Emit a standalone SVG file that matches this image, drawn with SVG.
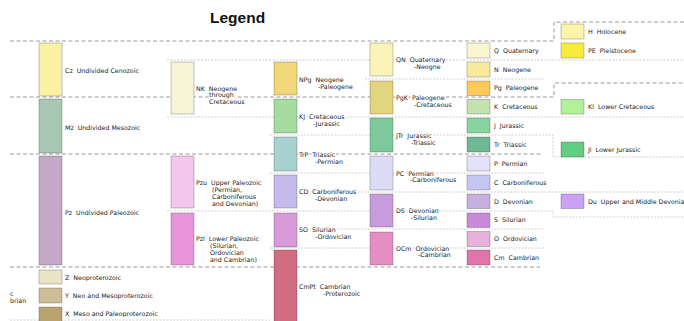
<svg xmlns="http://www.w3.org/2000/svg" width="684" height="321" viewBox="0 0 684 321">
<style>
.t{font-family:"DejaVu Sans","Verdana",sans-serif;font-size:6.3px;fill:#222;white-space:pre;stroke:#fff;stroke-width:2.4px;stroke-linejoin:round;paint-order:stroke}
.b{stroke:#000;stroke-opacity:.28;stroke-width:.8}
.hv{fill:none;stroke:#9a9a9a;stroke-width:1;stroke-dasharray:4 2.5}
.lt{fill:none;stroke:#c4c4c4;stroke-width:.8;stroke-dasharray:2 1.4}
.title{font-family:"Liberation Sans",Arial,sans-serif;font-weight:bold;font-size:15.5px;fill:#111}
</style>
<rect width="684" height="321" fill="#fff"/>
<text class="title" x="210" y="23">Legend</text>
<g id="connectors">
<path class="hv" d="M10,41H554V22H684"/>
<path class="hv" d="M10,97H554V83H684"/>
<path class="hv" d="M10,154H543"/>
<path class="hv" d="M10,267H540"/>
<path class="lt" d="M167,60H684"/>
<path class="lt" d="M365,79H545"/>
<path class="lt" d="M167,117H684"/>
<path class="lt" d="M270,135H553V157H684"/>
<path class="lt" d="M270,173H545"/>
<path class="lt" d="M300,192H684"/>
<path class="lt" d="M167,211H553V217H684"/>
<path class="lt" d="M300,229H545"/>
<path class="lt" d="M270,248H545"/>
<path class="lt" d="M10,320H270"/>
</g>
<g id="Cz"><rect class="b" x="39" y="43" width="23" height="53" fill="#f9f1a4"/><text class="t" x="65" y="72.5">Cz  Undivided Cenozoic</text></g>
<g id="Mz"><rect class="b" x="39" y="99" width="23" height="54" fill="#a9c7b3"/><text class="t" x="65" y="129.5">Mz  Undivided Mesozoic</text></g>
<g id="Pz"><rect class="b" x="39" y="156" width="23" height="109" fill="#c3a9c6"/><text class="t" x="65" y="214.5">Pz  Undivided Paleozoic</text></g>
<g id="Z"><rect class="b" x="39" y="270" width="23" height="14" fill="#e8e4c4"/><text class="t" x="65" y="279.5">Z  Neoproterozoic</text></g>
<g id="Y"><rect class="b" x="39" y="288" width="23" height="15" fill="#cfbd96"/><text class="t" x="65" y="297.8">Y  Neo and Mesoproterozoic</text></g>
<g id="X"><rect class="b" x="39" y="307" width="23" height="18" fill="#b9a470"/><text class="t" x="65" y="316.3">X  Meso and Paleoproterozoic</text></g>
<g id="precambrian"><text class="t" x="10" y="296">c</text><text class="t" x="10" y="303">brian</text></g>

<g id="NK"><rect class="b" x="171" y="62" width="23" height="52" fill="#f6f4d6"/><text class="t" x="196" y="90.5">NK  Neogene</text><text class="t" x="209" y="97.3">through</text><text class="t" x="209" y="104.1">Cretaceous</text></g>
<g id="Pzu"><rect class="b" x="171" y="156" width="23" height="52" fill="#f4c6ee"/><text class="t" x="196" y="185.3">Pzu  Upper Paleozoic</text><text class="t" x="212" y="192.1">(Permian,</text><text class="t" x="212" y="198.9">Carboniferous</text><text class="t" x="212" y="205.7">and Devonian)</text></g>
<g id="Pzl"><rect class="b" x="171" y="213" width="23" height="52" fill="#e995dc"/><text class="t" x="196" y="241.3">Pzl  Lower Paleozoic</text><text class="t" x="210" y="248.1">(Silurian,</text><text class="t" x="210" y="254.9">Ordovician</text><text class="t" x="210" y="261.7">and Cambrian)</text></g>

<g id="NPg"><rect class="b" x="274" y="62" width="23" height="33" fill="#f0d77a"/><text class="t" x="299" y="82.3">NPg  Neogene</text><text class="t" x="318" y="88.9">-Paleogene</text></g>
<g id="KJ"><rect class="b" x="274" y="99" width="23" height="34" fill="#a5dca0"/><text class="t" x="299" y="119">KJ  Cretaceous</text><text class="t" x="313" y="125.6">-Jurassic</text></g>
<g id="TrP"><rect class="b" x="274" y="137" width="23" height="34" fill="#a9d1cf"/><text class="t" x="299" y="157.3">TrP  Triassic</text><text class="t" x="315" y="163.9">-Permian</text></g>
<g id="CD"><rect class="b" x="274" y="175" width="23" height="33" fill="#c5baec"/><text class="t" x="299" y="194">CD  Carboniferous</text><text class="t" x="315" y="200.6">-Devonian</text></g>
<g id="SO"><rect class="b" x="274" y="213" width="23" height="34" fill="#d99ad9"/><text class="t" x="299" y="232.3">SO  Silurian</text><text class="t" x="315" y="238.9">-Ordovician</text></g>
<g id="CmPt"><rect class="b" x="274" y="250" width="23" height="75" fill="#d06d80"/><text class="t" x="299" y="289">CmPt  Cambrian</text><text class="t" x="323" y="295.6">-Proterozoic</text></g>

<g id="QN"><rect class="b" x="370" y="43" width="23" height="33" fill="#fbf4b8"/><text class="t" x="396" y="62.3">QN  Quaternary</text><text class="t" x="414" y="68.9">-Neogne</text></g>
<g id="PgK"><rect class="b" x="370" y="81" width="23" height="33" fill="#e2d580"/><text class="t" x="396" y="100">PgK  Paleogene</text><text class="t" x="414" y="106.6">-Cretaceous</text></g>
<g id="JTr"><rect class="b" x="370" y="118" width="23" height="34" fill="#7ec99c"/><text class="t" x="396" y="138.3">JTr  Jurassic</text><text class="t" x="411" y="144.9">-Triassic</text></g>
<g id="PC"><rect class="b" x="370" y="156" width="23" height="34" fill="#dcdcf7"/><text class="t" x="396" y="175.6">PC  Permian</text><text class="t" x="410" y="182.2">-Carboniferous</text></g>
<g id="DS"><rect class="b" x="370" y="194" width="23" height="33" fill="#c79cdc"/><text class="t" x="396" y="213.3">DS  Devonian</text><text class="t" x="411" y="219.9">-Silurian</text></g>
<g id="OCm"><rect class="b" x="370" y="232" width="23" height="33" fill="#e48fc3"/><text class="t" x="396" y="250.6">OCm  Ordovician</text><text class="t" x="418" y="257.2">-Cambrian</text></g>

<g id="Q"><rect class="b" x="467" y="43" width="23" height="15" fill="#fcf5cf"/><text class="t" x="494" y="52.8">Q  Quaternary</text></g>
<g id="N"><rect class="b" x="467" y="62" width="23" height="15" fill="#f9e99a"/><text class="t" x="494" y="71.8">N  Neogene</text></g>
<g id="Pg"><rect class="b" x="467" y="81" width="23" height="14.5" fill="#fdc95b"/><text class="t" x="494" y="90.3">Pg  Paleogene</text></g>
<g id="K"><rect class="b" x="467" y="99.5" width="23" height="14.5" fill="#c2e2b0"/><text class="t" x="494" y="109">K  Cretaceous</text></g>
<g id="J"><rect class="b" x="467" y="118" width="23" height="15" fill="#87d59e"/><text class="t" x="494" y="127.8">J  Jurassic</text></g>
<g id="Tr"><rect class="b" x="467" y="137" width="23" height="15" fill="#6fb894"/><text class="t" x="494" y="146.8">Tr  Triassic</text></g>
<g id="P"><rect class="b" x="467" y="156" width="23" height="15" fill="#e2e2fa"/><text class="t" x="494" y="165.8">P  Permian</text></g>
<g id="C"><rect class="b" x="467" y="175" width="23" height="15" fill="#c6c6f6"/><text class="t" x="494" y="184.8">C  Carboniferous</text></g>
<g id="D"><rect class="b" x="467" y="194" width="23" height="14.5" fill="#c7b0e0"/><text class="t" x="494" y="203.6">D  Devonian</text></g>
<g id="S"><rect class="b" x="467" y="213" width="23" height="14.5" fill="#c98bd9"/><text class="t" x="494" y="222.3">S  Silurian</text></g>
<g id="O"><rect class="b" x="467" y="231.5" width="23" height="15" fill="#e8b1dc"/><text class="t" x="494" y="241.3">O  Ordovician</text></g>
<g id="Cm"><rect class="b" x="467" y="250" width="23" height="15" fill="#e074ab"/><text class="t" x="494" y="259.8">Cm  Cambrian</text></g>

<g id="H"><rect class="b" x="561" y="24" width="23" height="15" fill="#fdf3a9"/><text class="t" x="588" y="33.8">H  Holocene</text></g>
<g id="PE"><rect class="b" x="561" y="43" width="23" height="15" fill="#f8ec3a"/><text class="t" x="588" y="52.8">PE  Pleistocene</text></g>
<g id="Kl"><rect class="b" x="561" y="99.5" width="23" height="14.5" fill="#b2f099"/><text class="t" x="588" y="109">Kl  Lower Cretaceous</text></g>
<g id="Jl"><rect class="b" x="561" y="142" width="23" height="15" fill="#60cf82"/><text class="t" x="588" y="151.8">Jl  Lower Jurassic</text></g>
<g id="Du"><rect class="b" x="561" y="194" width="23" height="14.5" fill="#c9a1f5"/><text class="t" x="588" y="203.6">Du  Upper and Middle Devonian</text></g>
</svg>
